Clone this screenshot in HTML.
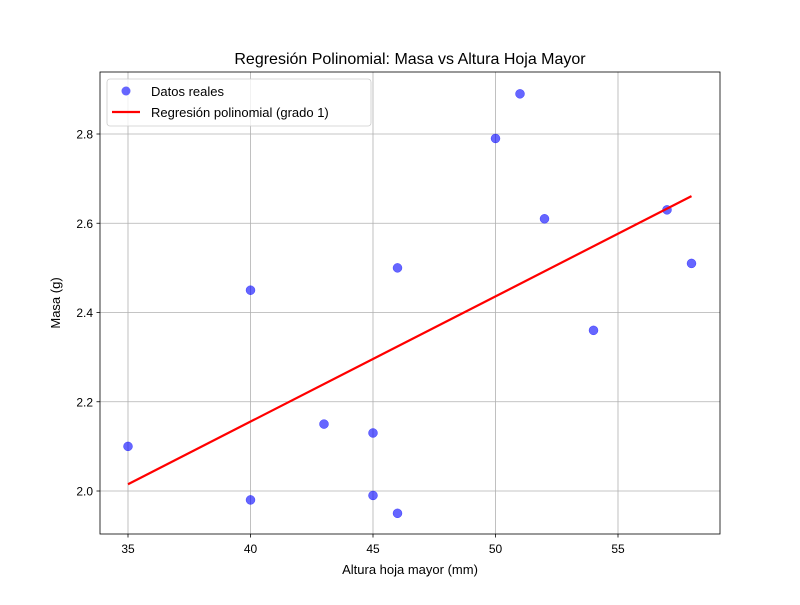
<!DOCTYPE html>
<html><head><meta charset="utf-8"><style>
body{margin:0;background:#fff}
text{font-family:"Liberation Sans","DejaVu Sans",sans-serif;fill:#000}
</style></head><body>
<svg id="c" width="800" height="600" xmlns="http://www.w3.org/2000/svg"></svg>
<script>
const xs=[35,40,40,43,45,45,46,46,50,51,52,54,57,58];
const ys=[2.10,2.45,1.98,2.15,2.13,1.99,2.50,1.95,2.79,2.89,2.61,2.36,2.63,2.51];
const xTicks=[35,40,45,50,55];
const yTicks=[2.0,2.2,2.4,2.6,2.8];
const yTickLabels=["2.0","2.2","2.4","2.6","2.8"];
const svg=document.getElementById('c');
const NS='http://www.w3.org/2000/svg';
function X(v){return 128+(v-35)*24.5;}
function Y(v){return 491-(v-2.0)*446.25;}
function mk(t,a,txt){const e=document.createElementNS(NS,t);for(const k in a)e.setAttribute(k,a[k]);if(txt!==undefined)e.textContent=txt;svg.appendChild(e);return e;}
let e;
e=mk('rect',{x:100,y:72,width:620,height:462,fill:'#fff'});


xTicks.forEach(t=>{
 e=mk('line',{x1:X(t),x2:X(t),y1:72,y2:534,stroke:'#b0b0b0','stroke-width':0.8});
 
 
 mk('line',{x1:X(t),x2:X(t),y1:534,y2:537.5,stroke:'#000','stroke-width':0.8});
 e=mk('text',{x:X(t),y:553,'text-anchor':'middle','font-size':12},String(t));
 
 
});
yTicks.forEach((t,i)=>{
 e=mk('line',{x1:100,x2:720,y1:Y(t),y2:Y(t),stroke:'#b0b0b0','stroke-width':0.8});
 
 
 mk('line',{x1:96.5,x2:100,y1:Y(t),y2:Y(t),stroke:'#000','stroke-width':0.8});
 e=mk('text',{x:93,y:Y(t)+4.5,'text-anchor':'end','font-size':12},yTickLabels[i]);
 
 
});
xs.forEach((x,i)=>{
 e=mk('circle',{cx:X(x),cy:Y(ys[i]),r:4.5,fill:'#0000ff','fill-opacity':0.6,stroke:'#0000ff','stroke-opacity':0.6,'stroke-width':0.5});
 
 
});
// linear regression
const n=xs.length,mx=xs.reduce((a,b)=>a+b)/n,my=ys.reduce((a,b)=>a+b)/n;
let sxy=0,sxx=0;xs.forEach((x,i)=>{sxy+=(x-mx)*(ys[i]-my);sxx+=(x-mx)**2;});
const b=sxy/sxx,a=my-b*mx;
const x0=Math.min(...xs),x1=Math.max(...xs);
e=mk('line',{x1:X(x0),y1:Y(a+b*x0),x2:X(x1),y2:Y(a+b*x1),stroke:'#ff0000','stroke-width':2.2});


e=mk('rect',{x:100,y:72,width:620,height:462,fill:'none',stroke:'#000','stroke-width':0.8});


e=mk('text',{x:410,y:64,'text-anchor':'middle','font-size':16},'Regresión Polinomial: Masa vs Altura Hoja Mayor');


e=mk('text',{x:410,y:574,'text-anchor':'middle','font-size':13},'Altura hoja mayor (mm)');


e=mk('text',{x:0,y:0,'text-anchor':'middle','font-size':13,transform:'translate(60,303) rotate(-90)'},'Masa (g)');


e=mk('rect',{x:107,y:79,width:264,height:47,rx:3,fill:'#fff','fill-opacity':0.8,stroke:'#cccccc','stroke-width':0.8});


e=mk('circle',{cx:126,cy:91,r:4.5,fill:'#0000ff','fill-opacity':0.6});


e=mk('text',{x:151,y:96,'font-size':13},'Datos reales');


e=mk('line',{x1:112,x2:140,y1:112,y2:112,stroke:'#ff0000','stroke-width':2.2});


e=mk('text',{x:151,y:117,'font-size':13},'Regresión polinomial (grado 1)');


</script>
</body></html>
